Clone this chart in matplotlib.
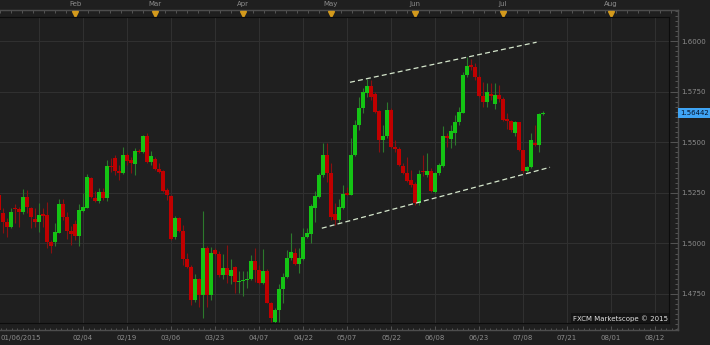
import numpy as np
import matplotlib
matplotlib.use("Agg")
import matplotlib.pyplot as plt
from matplotlib.ticker import MultipleLocator

# GBP/USD diario, 06/01/2015 - 15/07/2015
aperturas = [1.5239, 1.5149, 1.5108, 1.5081, 1.5177, 1.5169, 1.5154, 1.5228, 1.5174, 1.5121,
             1.5108, 1.5144, 1.5141, 1.5009, 1.5009, 1.5053, 1.5195, 1.5129, 1.5062, 1.5094,
             1.5038, 1.5162, 1.5177, 1.5325, 1.5225, 1.5211, 1.5256, 1.5226, 1.5384, 1.5421,
             1.5358, 1.5350, 1.5437, 1.5412, 1.5391, 1.5458, 1.5453, 1.5531, 1.5402, 1.5416,
             1.5366, 1.5358, 1.5264, 1.5236, 1.5030, 1.5127, 1.5063, 1.4923, 1.4884, 1.4721,
             1.4824, 1.4745, 1.4976, 1.4745, 1.4969, 1.4950, 1.4844, 1.4879, 1.4841, 1.4884,
             1.4808, 1.4813, 1.4821, 1.4823, 1.4913, 1.4869, 1.4803, 1.4866, 1.4707, 1.4614,
             1.4671, 1.4773, 1.4834, 1.4926, 1.4953, 1.4900, 1.4923, 1.5030, 1.5047, 1.5174,
             1.5231, 1.5337, 1.5435, 1.5350, 1.5144, 1.5116, 1.5177, 1.5248, 1.5241, 1.5437,
             1.5585, 1.5668, 1.5745, 1.5778, 1.5737, 1.5656, 1.5511, 1.5531, 1.5659, 1.5478,
             1.5466, 1.5383, 1.5349, 1.5313, 1.5294, 1.5198, 1.5358, 1.5338, 1.5359, 1.5256,
             1.5346, 1.5383, 1.5531, 1.5514, 1.5544, 1.5601, 1.5646, 1.5832, 1.5881, 1.5870,
             1.5824, 1.5730, 1.5700, 1.5737, 1.5689, 1.5733, 1.5713, 1.5613, 1.5606, 1.5544,
             1.5601, 1.5462, 1.5359, 1.5376, 1.5498, 1.5486, 1.5638]
maximos = [1.5248, 1.5174, 1.5124, 1.5174, 1.5193, 1.5178, 1.5269, 1.5264, 1.5178, 1.5174,
           1.5198, 1.5174, 1.5206, 1.5017, 1.5099, 1.5220, 1.5218, 1.5157, 1.5086, 1.5116,
           1.5195, 1.5248, 1.5342, 1.5330, 1.5259, 1.5272, 1.5272, 1.5412, 1.5421, 1.5437,
           1.5388, 1.5478, 1.5445, 1.5429, 1.5473, 1.5465, 1.5536, 1.5547, 1.5457, 1.5429,
           1.5396, 1.5363, 1.5272, 1.5239, 1.5136, 1.5132, 1.5091, 1.4951, 1.4894, 1.4849,
           1.4828, 1.5162, 1.4987, 1.4984, 1.4979, 1.4964, 1.4948, 1.4992, 1.4922, 1.4890,
           1.4866, 1.4866, 1.4866, 1.4943, 1.4976, 1.4894, 1.4973, 1.4872, 1.4712, 1.4679,
           1.4800, 1.4852, 1.4968, 1.5050, 1.4976, 1.4976, 1.5075, 1.5075, 1.5195, 1.5261,
           1.5346, 1.5495, 1.5498, 1.5396, 1.5198, 1.5218, 1.5289, 1.5281, 1.5519, 1.5610,
           1.5725, 1.5766, 1.5812, 1.5807, 1.5748, 1.5659, 1.5585, 1.5700, 1.5669, 1.5511,
           1.5476, 1.5397, 1.5428, 1.5363, 1.5305, 1.5363, 1.5437, 1.5447, 1.5373, 1.5353,
           1.5397, 1.5580, 1.5545, 1.5585, 1.5634, 1.5675, 1.5848, 1.5922, 1.5910, 1.5890,
           1.5832, 1.5799, 1.5791, 1.5793, 1.5791, 1.5783, 1.5725, 1.5643, 1.5610, 1.5605,
           1.5601, 1.5462, 1.5383, 1.5544, 1.5585, 1.5643, 1.5654]
minimos = [1.5116, 1.5050, 1.5034, 1.5075, 1.5099, 1.5080, 1.5144, 1.5149, 1.5078, 1.5083,
           1.5058, 1.5083, 1.4976, 1.4951, 1.4987, 1.5050, 1.5116, 1.5020, 1.4992, 1.5017,
           1.4987, 1.5157, 1.5174, 1.5223, 1.5206, 1.5198, 1.5215, 1.5210, 1.5355, 1.5338,
           1.5314, 1.5343, 1.5388, 1.5346, 1.5338, 1.5445, 1.5445, 1.5396, 1.5388, 1.5363,
           1.5346, 1.5256, 1.5215, 1.5017, 1.5024, 1.5058, 1.4894, 1.4877, 1.4696, 1.4712,
           1.4688, 1.4633, 1.4688, 1.4721, 1.4943, 1.4836, 1.4824, 1.4803, 1.4798, 1.4754,
           1.4754, 1.4742, 1.4778, 1.4819, 1.4811, 1.4798, 1.4800, 1.4704, 1.4614, 1.4605,
           1.4614, 1.4704, 1.4828, 1.4918, 1.4894, 1.4856, 1.4918, 1.5025, 1.5004, 1.5108,
           1.5226, 1.5330, 1.5305, 1.5116, 1.5091, 1.5099, 1.5169, 1.5239, 1.5238, 1.5432,
           1.5560, 1.5643, 1.5725, 1.5709, 1.5644, 1.5453, 1.5453, 1.5519, 1.5470, 1.5452,
           1.5383, 1.5343, 1.5305, 1.5280, 1.5190, 1.5190, 1.5333, 1.5328, 1.5256, 1.5249,
           1.5338, 1.5379, 1.5478, 1.5470, 1.5486, 1.5585, 1.5643, 1.5824, 1.5857, 1.5807,
           1.5725, 1.5675, 1.5675, 1.5709, 1.5663, 1.5700, 1.5605, 1.5564, 1.5552, 1.5531,
           1.5457, 1.5349, 1.5354, 1.5371, 1.5483, 1.5453, 1.5634]
cierres = [1.5165, 1.5108, 1.5083, 1.5154, 1.5169, 1.5155, 1.5228, 1.5178, 1.5131, 1.5108,
           1.5141, 1.5137, 1.5009, 1.4987, 1.5055, 1.5195, 1.5129, 1.5062, 1.5048, 1.5038,
           1.5165, 1.5178, 1.5327, 1.5231, 1.5211, 1.5256, 1.5226, 1.5384, 1.5379, 1.5358,
           1.5350, 1.5437, 1.5409, 1.5399, 1.5457, 1.5453, 1.5531, 1.5401, 1.5432, 1.5366,
           1.5355, 1.5261, 1.5238, 1.5020, 1.5127, 1.5063, 1.4923, 1.4884, 1.4721, 1.4824,
           1.4745, 1.4976, 1.4745, 1.4953, 1.4950, 1.4844, 1.4879, 1.4844, 1.4869, 1.4808,
           1.4813, 1.4821, 1.4823, 1.4913, 1.4869, 1.4803, 1.4866, 1.4707, 1.4630, 1.4671,
           1.4775, 1.4834, 1.4928, 1.4958, 1.4900, 1.4926, 1.5034, 1.5050, 1.5185, 1.5234,
           1.5338, 1.5435, 1.5350, 1.5132, 1.5116, 1.5178, 1.5244, 1.5241, 1.5437, 1.5587,
           1.5668, 1.5747, 1.5778, 1.5725, 1.5651, 1.5511, 1.5531, 1.5659, 1.5478, 1.5466,
           1.5387, 1.5349, 1.5310, 1.5289, 1.5198, 1.5343, 1.5353, 1.5359, 1.5260, 1.5346,
           1.5387, 1.5531, 1.5519, 1.5555, 1.5601, 1.5648, 1.5832, 1.5876, 1.5873, 1.5821,
           1.5730, 1.5700, 1.5750, 1.5730, 1.5733, 1.5713, 1.5610, 1.5606, 1.5560, 1.5601,
           1.5462, 1.5359, 1.5379, 1.5511, 1.5486, 1.5638, 1.56442]

# Etiquetas del eje (posicion = numero de vela)
fechas = ["02/04", "02/19", "03/06", "03/23", "04/07", "04/22", "05/07", "05/22",
          "06/08", "06/23", "07/08", "07/21", "08/01", "08/12"]
pos_fechas = [22, 33, 44, 55, 66, 77, 88, 99, 110, 121, 132, 143, 154, 165]
meses = ["Feb", "Mar", "Apr", "May", "Jun", "Jul", "Aug"]
pos_meses = [20, 40, 62, 84, 105, 127, 154]
precios_eje = [1.475, 1.500, 1.525, 1.550, 1.575, 1.600]

# Canal alcista dibujado a mano
canal_sup_x = [88.75, 135.4]
canal_sup_y = [1.5796, 1.5994]
canal_inf_x = [81.7, 138.75]
canal_inf_y = [1.5075, 1.5376]

ultimo_precio = 1.56442

FONDO = "#1f1f1f"
GRIS = "#8c8c8c"
plt.rcParams["font.family"] = ["DejaVu Sans"]


def rect(izq, arriba, der, abajo):
    # rectangulo en pixeles de la imagen 710x345 -> coordenadas de figura
    return [izq / 710, (345 - abajo) / 345, (der - izq) / 710, (abajo - arriba) / 345]


def precio(py):
    return 1.6 - (py - 41) / 2024


def vela(px):
    return (px + 5) / 4


fig = plt.figure(figsize=(7.1, 3.45), dpi=100, facecolor=FONDO)

# Marco exterior con las escalas
marco = fig.add_axes(rect(0, 10, 678, 330))
marco.set_facecolor(FONDO)
marco.set_xlim(vela(0), vela(678))
marco.set_ylim(precio(330), precio(10))
marco.spines["left"].set_visible(False)
for lado in ["top", "right", "bottom"]:
    marco.spines[lado].set_color("#4d4d4d")
    marco.spines[lado].set_linewidth(1)

marco.yaxis.tick_right()
marco.set_yticks(precios_eje)
marco.set_yticklabels([f"{p:.4f}" for p in precios_eje])
marco.yaxis.set_minor_locator(MultipleLocator(0.0025))
marco.tick_params(axis="y", which="major", direction="in", length=6, width=0.7,
                  color="#555555", labelsize=5, labelcolor=GRIS, pad=2)
marco.tick_params(axis="y", which="minor", direction="in", length=2.5, width=0.7, color="#555555")

marco.set_xticks(pos_fechas)
marco.set_xticklabels(fechas)
marco.xaxis.set_minor_locator(MultipleLocator(1.375))
marco.tick_params(axis="x", which="major", direction="in", length=3, width=0.7,
                  color="#555555", labelsize=5, labelcolor=GRIS, pad=3.5)
marco.tick_params(axis="x", which="minor", direction="in", length=1.5, width=0.7, color="#555555")
marco.annotate("01/06/2015", xy=(0, 0), xycoords="axes fraction", xytext=(0.5, -3.5),
               textcoords="offset points", ha="left", va="top", fontsize=5, color=GRIS)

arriba = marco.secondary_xaxis("top")
arriba.set_xticks(np.arange(vela(0), vela(678), 2.75))
arriba.set_xticklabels([])
arriba.tick_params(direction="in", length=2, width=0.7, color="#555555")
arriba.spines["top"].set_color("#4d4d4d")

marco.plot(pos_meses, [0.989] * len(pos_meses), transform=marco.get_xaxis_transform(),
           marker="v", ls="none", color="#d49a1c", ms=4.5, clip_on=False, zorder=5)
for m, k in zip(meses, pos_meses):
    marco.annotate(m, xy=(k, 1), xycoords=marco.get_xaxis_transform(), xytext=(0, 2),
                   textcoords="offset points", ha="center", va="bottom", fontsize=5,
                   color=GRIS, annotation_clip=False)

marco.annotate(f"{ultimo_precio:.5f}", xy=(1, ultimo_precio), xycoords=("axes fraction", "data"),
               xytext=(1.6, 0), textcoords="offset points", ha="left", va="center",
               fontsize=5, color="#06122a", annotation_clip=False,
               bbox=dict(boxstyle="square,pad=0.25", facecolor="#3fa4f4", edgecolor="none"))

# Area de velas
ax = fig.add_axes(rect(0, 17, 669, 323))
ax.set_facecolor(FONDO)
ax.set_xlim(vela(0), vela(669))
ax.set_ylim(precio(323), precio(17))
ax.spines["left"].set_visible(False)
for lado in ["top", "right", "bottom"]:
    ax.spines[lado].set_color("#0c0c0c")
ax.set_xticks([11] + pos_fechas)
ax.set_yticks(precios_eje)
ax.grid(True, color="#303030", linewidth=0.8)
ax.set_axisbelow(True)
ax.tick_params(length=0, labelbottom=False, labelleft=False)

o = np.array(aperturas)
h = np.array(maximos)
l = np.array(minimos)
c = np.array(cierres)
k = np.arange(1, len(o) + 1)
sube = c >= o

ax.vlines(k, l, h, colors=np.where(sube, "#2c7a2c", "#8a1010"), linewidth=0.8, zorder=2)
cuerpo = np.maximum(np.abs(c - o), 0.0004)
ax.bar(k, cuerpo, bottom=np.minimum(o, c), width=0.8,
       color=np.where(sube, "#14c414", "#c00000"), linewidth=0, zorder=3)

ax.plot(canal_sup_x, canal_sup_y, color="#d5e6cc", lw=0.9, dashes=(4, 2.5), zorder=4)
ax.plot(canal_inf_x, canal_inf_y, color="#d5e6cc", lw=0.9, dashes=(4, 2.5), zorder=4)

ax.text(0.998, 0.004, "FXCM Marketscope \u00a9 2015", transform=ax.transAxes, ha="right",
        va="bottom", fontsize=5, color="#e0e0e0", zorder=6,
        bbox=dict(facecolor="#141414", edgecolor="none", pad=1.2))

fig.savefig("out.png", dpi=100, facecolor=FONDO)
